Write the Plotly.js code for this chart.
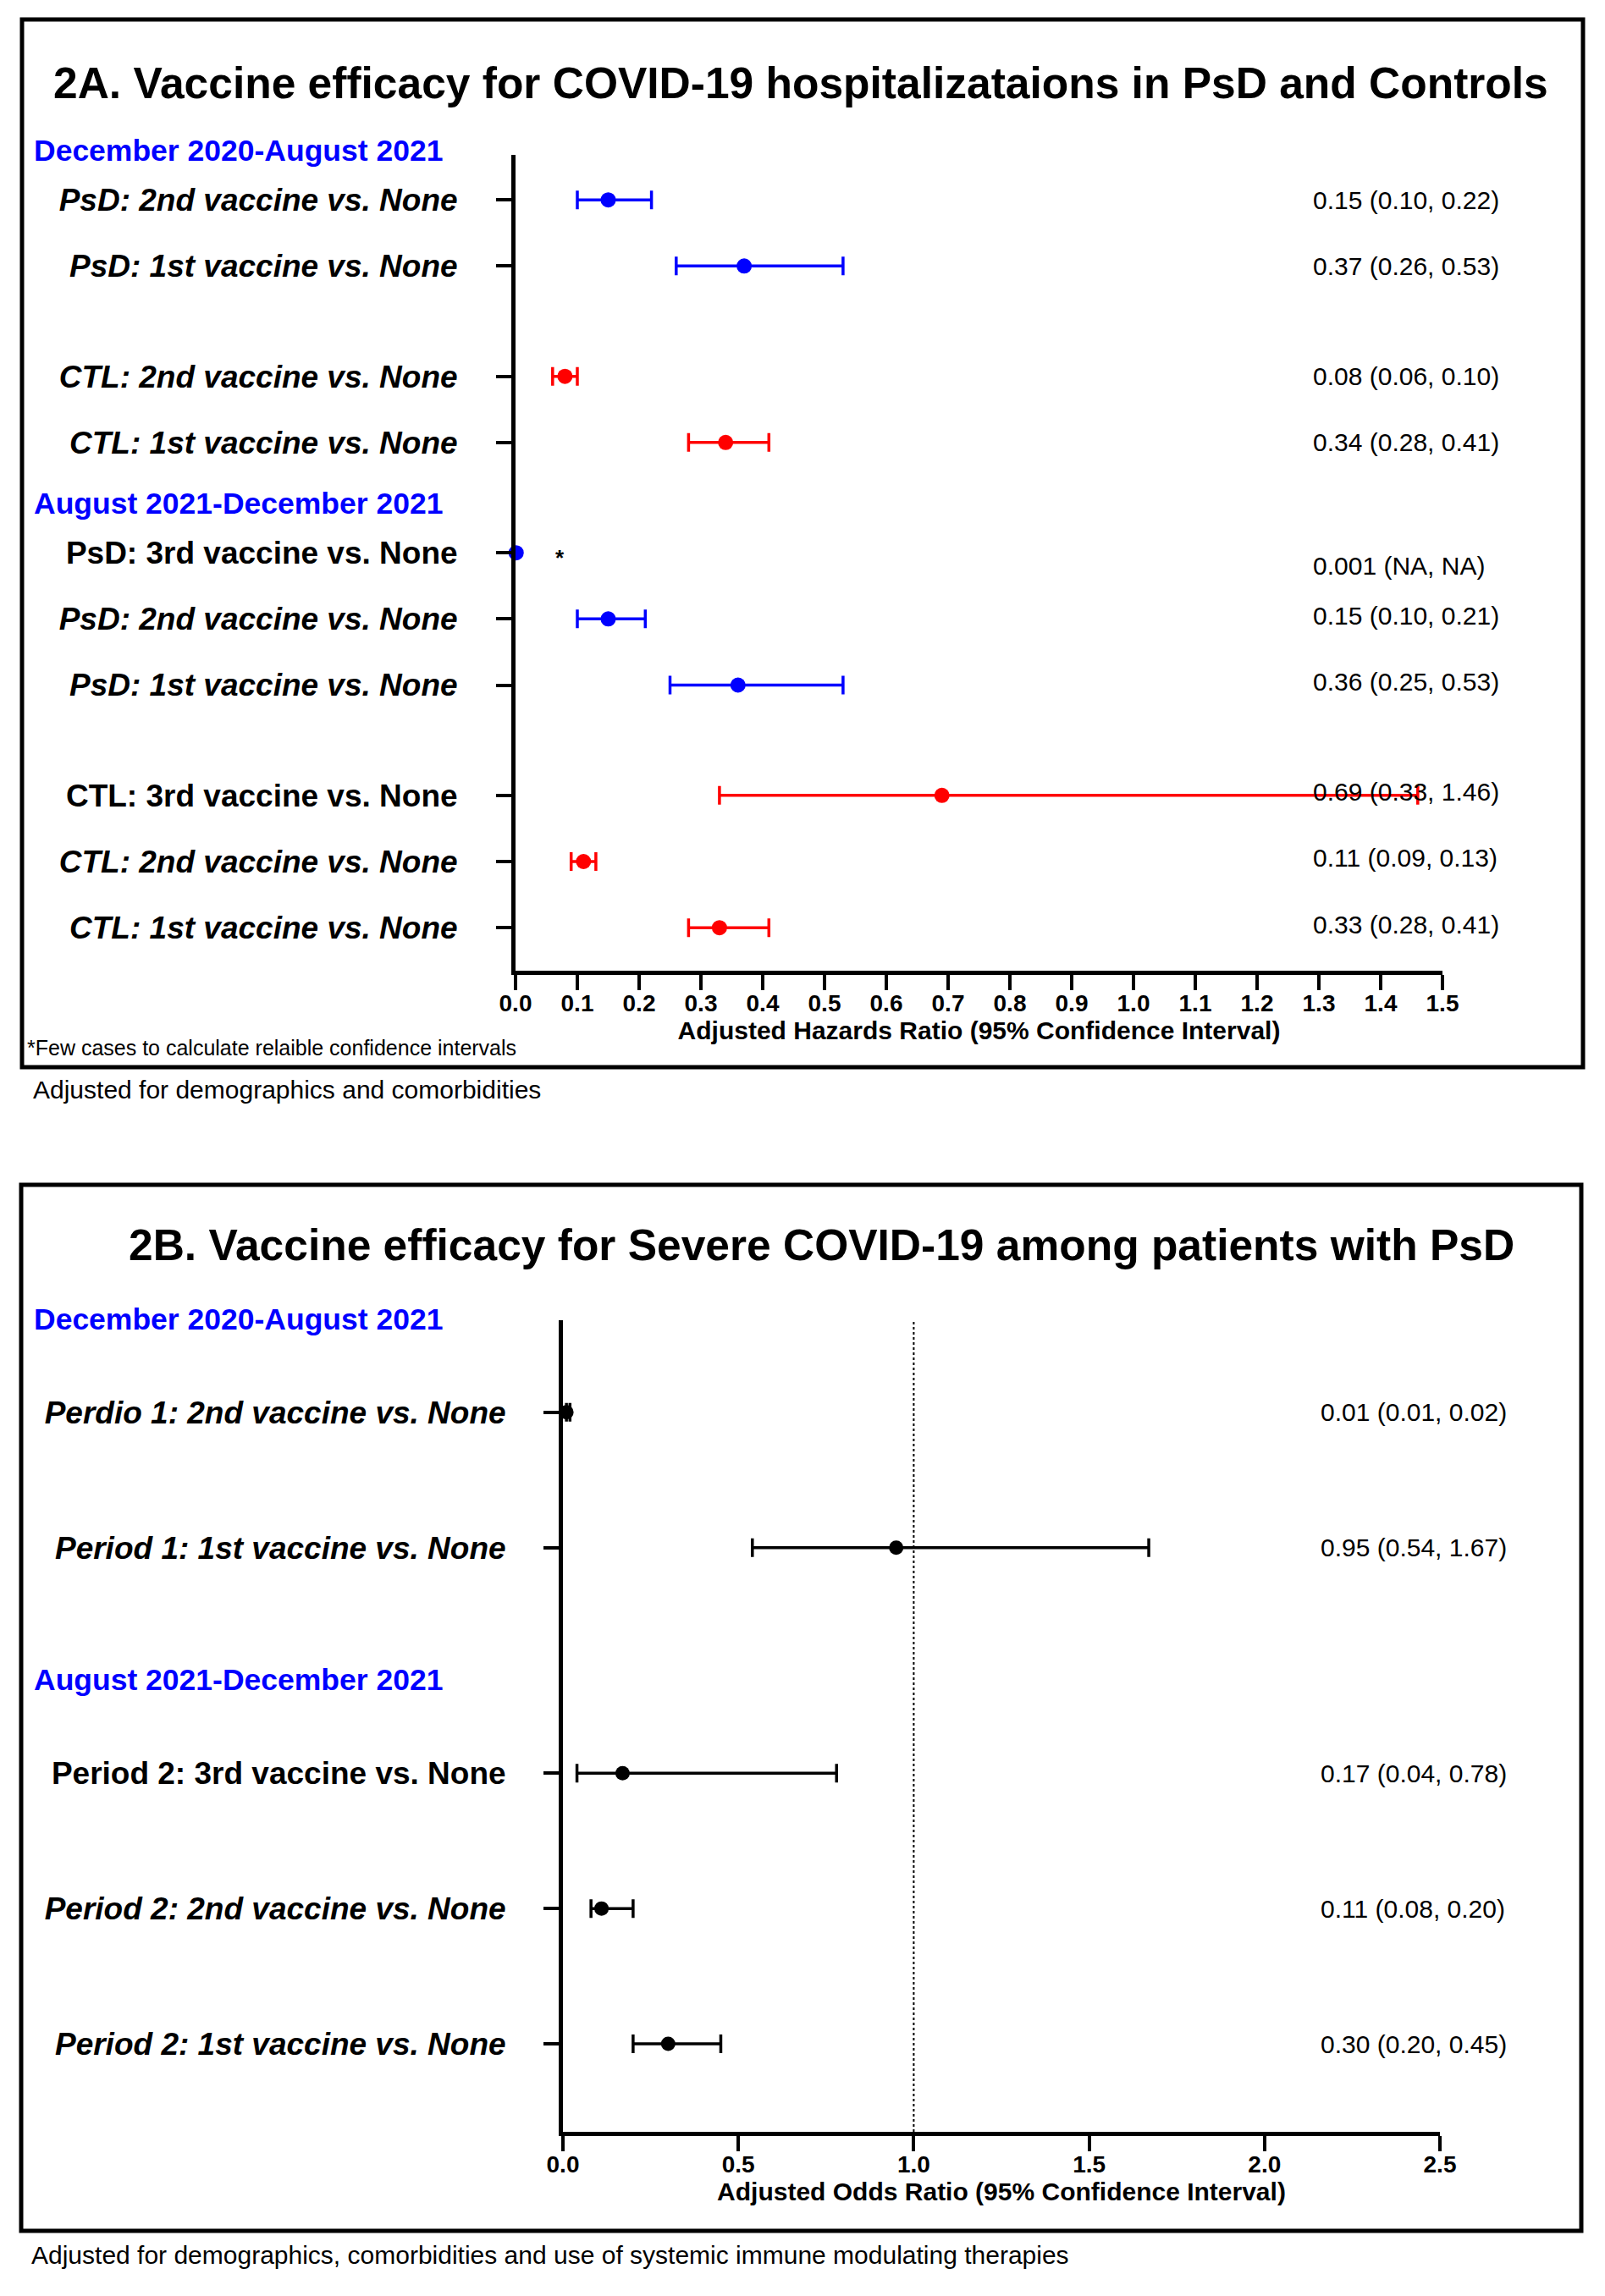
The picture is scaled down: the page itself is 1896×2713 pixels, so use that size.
<!DOCTYPE html>
<html>
<head>
<meta charset="utf-8">
<script src="https://cdn.plot.ly/plotly-3.0.1.min.js"></script>
<style>html,body{margin:0;padding:0;background:#fff}</style>
</head>
<body>
<div id="chart" style="width:1896px;height:2713px"></div>
<script>
// ---------------- DATA ----------------
const periodNames = ["December 2020-August 2021", "August 2021-December 2021"];

// Panel 2A: hospitalizations (adjusted hazards ratio)
const labelsA = ["PsD: 2nd vaccine vs. None", "PsD: 1st vaccine vs. None",
  "CTL: 2nd vaccine vs. None", "CTL: 1st vaccine vs. None",
  "PsD: 3rd vaccine vs. None", "PsD: 2nd vaccine vs. None", "PsD: 1st vaccine vs. None",
  "CTL: 3rd vaccine vs. None", "CTL: 2nd vaccine vs. None", "CTL: 1st vaccine vs. None"];
const periodA = [1, 1, 1, 1, 2, 2, 2, 2, 2, 2];
const groupA  = ["PsD", "PsD", "CTL", "CTL", "PsD", "PsD", "PsD", "CTL", "CTL", "CTL"];
const hrA   = [0.15, 0.37, 0.08, 0.34, 0.001, 0.15, 0.36, 0.69, 0.11, 0.33];
const lowA  = [0.10, 0.26, 0.06, 0.28, null, 0.10, 0.25, 0.33, 0.09, 0.28];
const highA = [0.22, 0.53, 0.10, 0.41, null, 0.21, 0.53, 1.46, 0.13, 0.41];
const ciTextA = ["0.15 (0.10, 0.22)", "0.37 (0.26, 0.53)", "0.08 (0.06, 0.10)", "0.34 (0.28, 0.41)",
  "0.001 (NA, NA)", "0.15 (0.10, 0.21)", "0.36 (0.25, 0.53)", "0.69 (0.33, 1.46)",
  "0.11 (0.09, 0.13)", "0.33 (0.28, 0.41)"];
const xTicksA = [0, 0.1, 0.2, 0.3, 0.4, 0.5, 0.6, 0.7, 0.8, 0.9, 1.0, 1.1, 1.2, 1.3, 1.4, 1.5];

// Panel 2B: severe COVID-19 (adjusted odds ratio)
const labelsB = ["Perdio 1: 2nd vaccine vs. None", "Period 1: 1st vaccine vs. None",
  "Period 2: 3rd vaccine vs. None", "Period 2: 2nd vaccine vs. None", "Period 2: 1st vaccine vs. None"];
const periodB = [1, 1, 2, 2, 2];
const groupB  = ["PsD", "PsD", "PsD", "PsD", "PsD"];
const orB   = [0.01, 0.95, 0.17, 0.11, 0.30];
const lowB  = [0.01, 0.54, 0.04, 0.08, 0.20];
const highB = [0.02, 1.67, 0.78, 0.20, 0.45];
const ciTextB = ["0.01 (0.01, 0.02)", "0.95 (0.54, 1.67)", "0.17 (0.04, 0.78)",
  "0.11 (0.08, 0.20)", "0.30 (0.20, 0.45)"];
const xTicksB = [0, 0.5, 1.0, 1.5, 2.0, 2.5];

// ---------------- LAYOUT HELPERS ----------------
const W = 1896, H = 2713;
const FONT = "Liberation Sans, Arial, Helvetica, sans-serif";
const BLUE = "#0000FF", RED = "#FF0000", BLACK = "#000000";
const px = v => v / W;
const py = v => 1 - v / H;

function positions(groups, periods) {
  const pos = []; let off = 0;
  for (let i = 0; i < groups.length; i++) {
    if (i > 0 && (groups[i] !== groups[i - 1] || periods[i] !== periods[i - 1])) off += 2 / 3;
    pos.push(i + off);
  }
  return pos;
}
const posA = positions(groupA, periodA);
const posB = positions(groupB, periodB);
const RTOP = -0.68;
const geomA = { top: 183, bot: 1147, rTop: RTOP, rBot: posA[posA.length - 1] + 0.65 };
const geomB = { top: 1560, bot: 2519, rTop: RTOP, rBot: posB[posB.length - 1] + 0.65 };
const rowPx = (g, p) => g.top + (p - g.rTop) / (g.rBot - g.rTop) * (g.bot - g.top);

function fmtLabel(s) { return s.indexOf("3rd") >= 0 ? s : "<i>" + s + "</i>"; }

function makeTrace(idx, est, low, high, pos, color, xa, ya, size) {
  return {
    type: "scatter", mode: "markers", xaxis: xa, yaxis: ya, cliponaxis: false,
    x: idx.map(i => est[i]), y: idx.map(i => pos[i]),
    marker: { color: color, size: size },
    error_x: {
      type: "data", symmetric: false, color: color, thickness: 3.5, width: 11,
      array: idx.map(i => high[i] == null ? NaN : high[i] - est[i]),
      arrayminus: idx.map(i => low[i] == null ? NaN : est[i] - low[i])
    },
    hoverinfo: "x+y", showlegend: false
  };
}
const idxOf = (arr, v) => arr.map((g, i) => g === v ? i : -1).filter(i => i >= 0);

const traces = [
  makeTrace(idxOf(groupA, "PsD"), hrA, lowA, highA, posA, BLUE, "x", "y", 18),
  makeTrace(idxOf(groupA, "CTL"), hrA, lowA, highA, posA, RED, "x", "y", 18),
  makeTrace(idxOf(groupB, "PsD"), orB, lowB, highB, posB, BLACK, "x2", "y2", 17)
];

// ---------------- ANNOTATIONS ----------------
const ann = [];
// titles
ann.push({ text: "2A. Vaccine efficacy for COVID-19 hospitalizataions in PsD and Controls",
  xref: "paper", yref: "paper", x: px(946), y: py(98), xanchor: "center", yanchor: "middle",
  showarrow: false, font: { family: FONT, size: 51.5, weight: "bold", color: BLACK } });
ann.push({ text: "2B. Vaccine efficacy for Severe COVID-19 among patients with PsD",
  xref: "paper", yref: "paper", x: px(970), y: py(1471), xanchor: "center", yanchor: "middle",
  showarrow: false, font: { family: FONT, size: 51.5, weight: "bold", color: BLACK } });

// period headers
function periodHeaders(periods, pos, geom, offsetPx) {
  [1, 2].forEach(p => {
    const first = periods.indexOf(p);
    ann.push({ text: periodNames[p - 1], xref: "paper", yref: "paper", x: px(38),
      y: py(rowPx(geom, pos[first]) - offsetPx),
      xanchor: "left", yanchor: "middle", showarrow: false,
      font: { family: FONT, size: 35.5, weight: "bold", color: BLUE } });
  });
}
periodHeaders(periodA, posA, geomA, 58);
periodHeaders(periodB, posB, geomB, 110);

// CI text column
ciTextA.forEach((t, i) => ann.push({ text: t, xref: "paper", yref: "y", x: px(1549), y: posA[i],
  yshift: (lowA[i] == null ? -15 : (periodA[i] === 2 ? 4 : 0)),
  xanchor: "left", yanchor: "middle", showarrow: false,
  font: { family: FONT, size: 30, color: BLACK } }));
ciTextB.forEach((t, i) => ann.push({ text: t, xref: "paper", yref: "y2", x: px(1558), y: posB[i],
  xanchor: "left", yanchor: "middle", showarrow: false,
  font: { family: FONT, size: 30, color: BLACK } }));

// asterisk for the estimate without CI
hrA.forEach((v, i) => { if (lowA[i] == null) ann.push({ text: "*", xref: "x", yref: "y", x: 0.072, y: posA[i],
  yshift: -6, xanchor: "center", yanchor: "middle", showarrow: false,
  font: { family: FONT, size: 26, weight: "bold", color: BLACK } }); });

// footnotes
ann.push({ text: "*Few cases to calculate relaible confidence intervals", xref: "paper", yref: "paper",
  x: px(30), y: py(1238), xanchor: "left", yanchor: "middle", showarrow: false,
  font: { family: FONT, size: 25, color: BLACK } });
ann.push({ text: "Adjusted for demographics and comorbidities", xref: "paper", yref: "paper",
  x: px(37), y: py(1288), xanchor: "left", yanchor: "middle", showarrow: false,
  font: { family: FONT, size: 30, color: BLACK } });
ann.push({ text: "Adjusted for demographics, comorbidities and use of systemic immune modulating therapies",
  xref: "paper", yref: "paper", x: px(35), y: py(2664), xanchor: "left", yanchor: "middle", showarrow: false,
  font: { family: FONT, size: 30, color: BLACK } });

// ---------------- SHAPES ----------------
const shapes = [
  { type: "rect", xref: "paper", yref: "paper", x0: px(26), x1: px(1870), y0: py(1261), y1: py(23),
    line: { color: BLACK, width: 5 }, fillcolor: "rgba(0,0,0,0)" },
  { type: "rect", xref: "paper", yref: "paper", x0: px(25), x1: px(1868), y0: py(2636), y1: py(1400),
    line: { color: BLACK, width: 5 }, fillcolor: "rgba(0,0,0,0)" },
  { type: "line", xref: "x2", yref: "y2 domain", x0: 1, x1: 1, y0: 0, y1: 1,
    line: { color: BLACK, width: 2, dash: "dot" } }
];

// ---------------- AXES ----------------
function xAxis(domain, range, ticks, title, anchor) {
  return {
    domain: domain, range: range, anchor: anchor, tickmode: "array", tickvals: ticks,
    ticktext: ticks.map(v => v.toFixed(1)),
    showline: true, linewidth: 5, linecolor: BLACK, mirror: false,
    ticks: "outside", ticklen: 18, tickwidth: 4, tickcolor: BLACK, ticklabelstandoff: -9,
    showgrid: false, zeroline: false, fixedrange: true,
    tickfont: { family: FONT, size: 28, weight: "bold", color: BLACK },
    title: { text: title, standoff: 4, font: { family: FONT, size: 30, weight: "bold", color: BLACK } }
  };
}
function yAxis(domain, geom, pos, labels, anchor, standoff) {
  return {
    domain: domain, range: [geom.rBot, geom.rTop], anchor: anchor,
    tickmode: "array", tickvals: pos, ticktext: labels.map(fmtLabel),
    showline: true, linewidth: 5, linecolor: BLACK,
    ticks: "outside", ticklen: 18, tickwidth: 4, tickcolor: BLACK, ticklabelstandoff: standoff,
    showgrid: false, zeroline: false, fixedrange: true,
    tickfont: { family: FONT, size: 37, weight: "bold", color: BLACK }
  };
}

const layout = {
  width: W, height: H, autosize: false,
  margin: { l: 0, r: 0, t: 0, b: 0, pad: 0 },
  paper_bgcolor: "#ffffff", plot_bgcolor: "#ffffff",
  font: { family: FONT, color: BLACK },
  showlegend: false,
  xaxis: xAxis([px(609), px(1704)], [0, 1.5], xTicksA, "Adjusted Hazards Ratio (95% Confidence Interval)", "y"),
  yaxis: yAxis([py(geomA.bot), py(geomA.top)], geomA, posA, labelsA, "x", 38),
  xaxis2: xAxis([px(665), px(1701)], [0, 2.5], xTicksB, "Adjusted Odds Ratio (95% Confidence Interval)", "y2"),
  yaxis2: yAxis([py(geomB.bot), py(geomB.top)], geomB, posB, labelsB, "x2", 37),
  annotations: ann,
  shapes: shapes
};

Plotly.newPlot("chart", traces, layout, { staticPlot: true, displayModeBar: false });
</script>
</body>
</html>
